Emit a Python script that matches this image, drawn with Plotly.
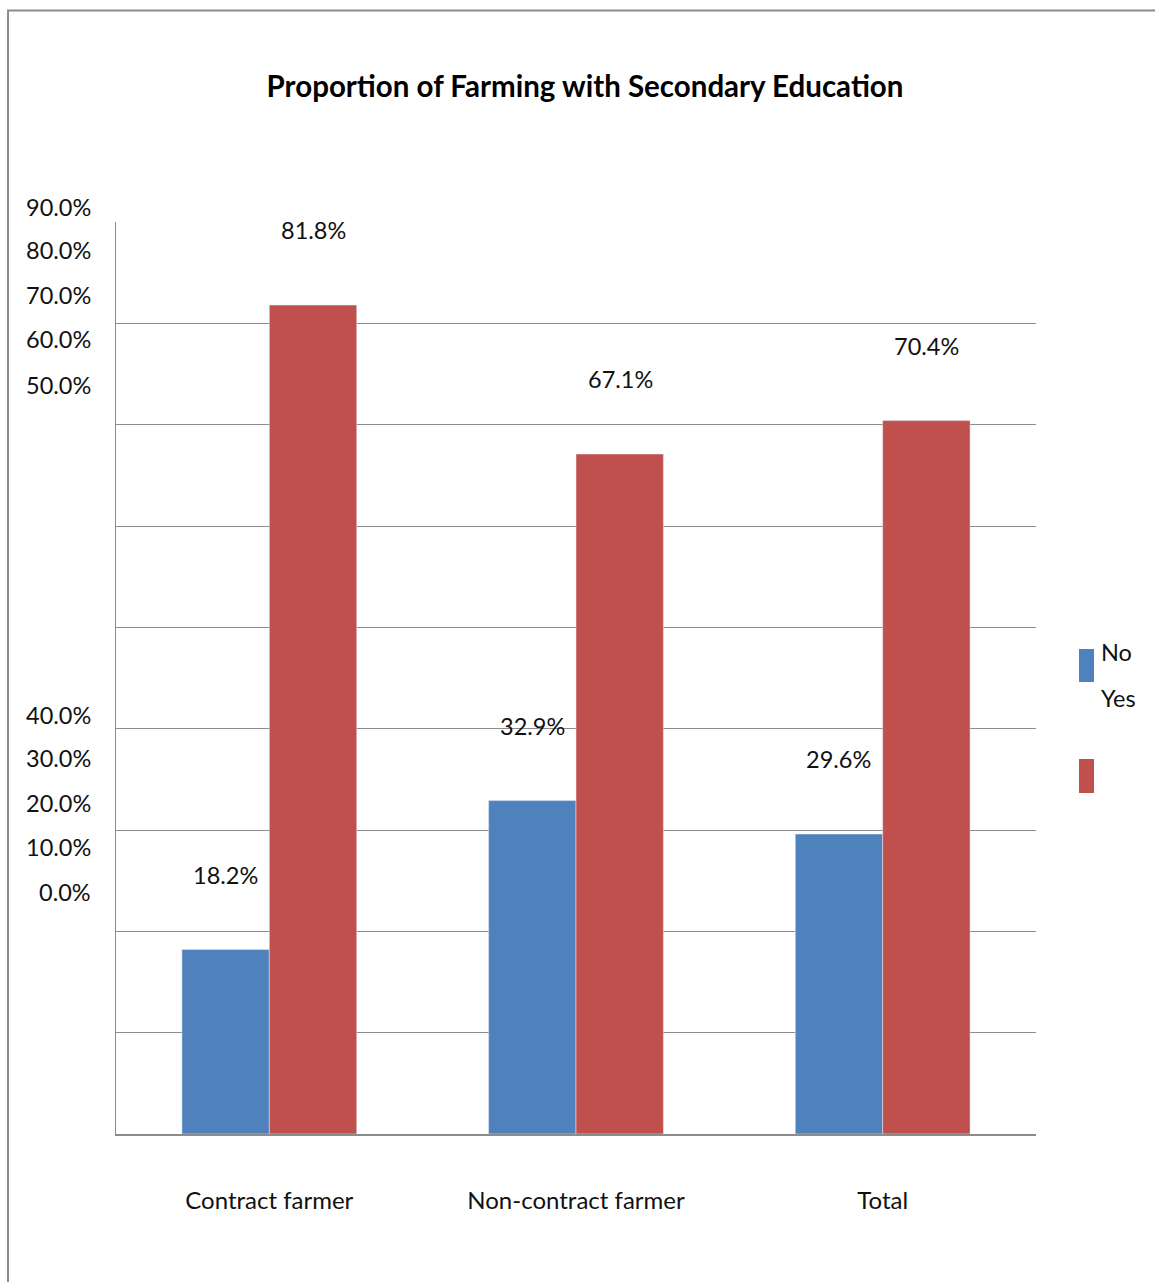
import plotly.graph_objects as go

categories = ["Contract farmer", "Non-contract farmer", "Total"]
no_values = [18.2, 32.9, 29.6]
yes_values = [81.8, 67.1, 70.4]
series_names = ["No", "Yes"]
tick_labels = ["0.0%", "10.0%", "20.0%", "30.0%", "40.0%", "50.0%", "60.0%", "70.0%", "80.0%", "90.0%"]

BLUE = "#4F81BD"
RED = "#C0504D"
GRID = "#8C8C8C"
FONT = "Lato"
FS = 23.5
TXT = "#111111"

W, H = 1155, 1282
L, R, T, B = 116, 119, 222, 148
PW, PH = W - L - R, H - T - B

def px(x):
    return (x - L) / PW

def py(y):
    return (H - B - y) / PH

fig = go.Figure()
fig.add_trace(go.Bar(x=categories, y=no_values, name=series_names[0], marker_color=BLUE))
fig.add_trace(go.Bar(x=categories, y=yes_values, name=series_names[1], marker_color=RED))

annotations = []
# data labels (displaced above bars as in the reference)
for vals, shift in ((no_values, -44), (yes_values, 44)):
    for c, v in zip(categories, vals):
        annotations.append(dict(x=c, y=v, xref="x", yref="y", text=f"{v:.1f}%",
                                showarrow=False, xshift=shift, yshift=75,
                                font=dict(size=FS, color=TXT, family=FONT)))

# misplaced tick labels as in the reference
tick_pix = [892, 847, 803, 758, 715, 385, 339, 295, 250, 207]
for lab, yp in zip(tick_labels, tick_pix):
    annotations.append(dict(x=0, y=py(yp), xref="paper", yref="paper", text=lab,
                            showarrow=False, xanchor="right", yanchor="middle", xshift=-23,
                            font=dict(size=FS, color=TXT, family=FONT)))

# legend text
annotations.append(dict(x=px(1099), y=py(652), xref="paper", yref="paper", text=series_names[0],
                        showarrow=False, xanchor="left", yanchor="middle",
                        font=dict(size=FS, color=TXT, family=FONT)))
annotations.append(dict(x=px(1099), y=py(698), xref="paper", yref="paper", text=series_names[1],
                        showarrow=False, xanchor="left", yanchor="middle",
                        font=dict(size=FS, color=TXT, family=FONT)))

shapes = [
    dict(type="rect", xref="paper", yref="paper", x0=px(1079), x1=px(1094), y0=py(682), y1=py(649),
         fillcolor=BLUE, line_width=0),
    dict(type="rect", xref="paper", yref="paper", x0=px(1079), x1=px(1094), y0=py(793), y1=py(759),
         fillcolor=RED, line_width=0),
    # outer frame (left and top edges)
    dict(type="line", xref="paper", yref="paper", x0=px(8), x1=px(8), y0=py(1290), y1=py(10.5),
         line=dict(color="#8C8C8C", width=2)),
    dict(type="line", xref="paper", yref="paper", x0=px(7), x1=px(1160), y0=py(10.5), y1=py(10.5),
         line=dict(color="#8C8C8C", width=2)),
]

fig.update_layout(
    width=W, height=H,
    margin=dict(l=L, r=R, t=T, b=B),
    paper_bgcolor="white", plot_bgcolor="white",
    barmode="group", bargap=0.43, bargroupgap=0,
    showlegend=False,
    title=dict(text="<b>Proportion of Farming with Secondary Education</b>",
               x=px(582), xanchor="center", y=1 - 87 / H, yanchor="middle",
               font=dict(size=29.5, color="#000000", family=FONT)),
    font=dict(family=FONT, size=FS, color=TXT),
    annotations=annotations,
    shapes=shapes,
    xaxis=dict(showgrid=False, showline=True, linecolor=GRID, linewidth=2,
               ticks="", tickfont=dict(size=24, family=FONT, color=TXT), ticklabelstandoff=44),
    yaxis=dict(range=[0, 90], dtick=10, showgrid=True, gridcolor=GRID, gridwidth=1,
               showline=True, linecolor=GRID, linewidth=1, showticklabels=False, zeroline=False, ticks=""),
)

fig.write_html("out.html")
